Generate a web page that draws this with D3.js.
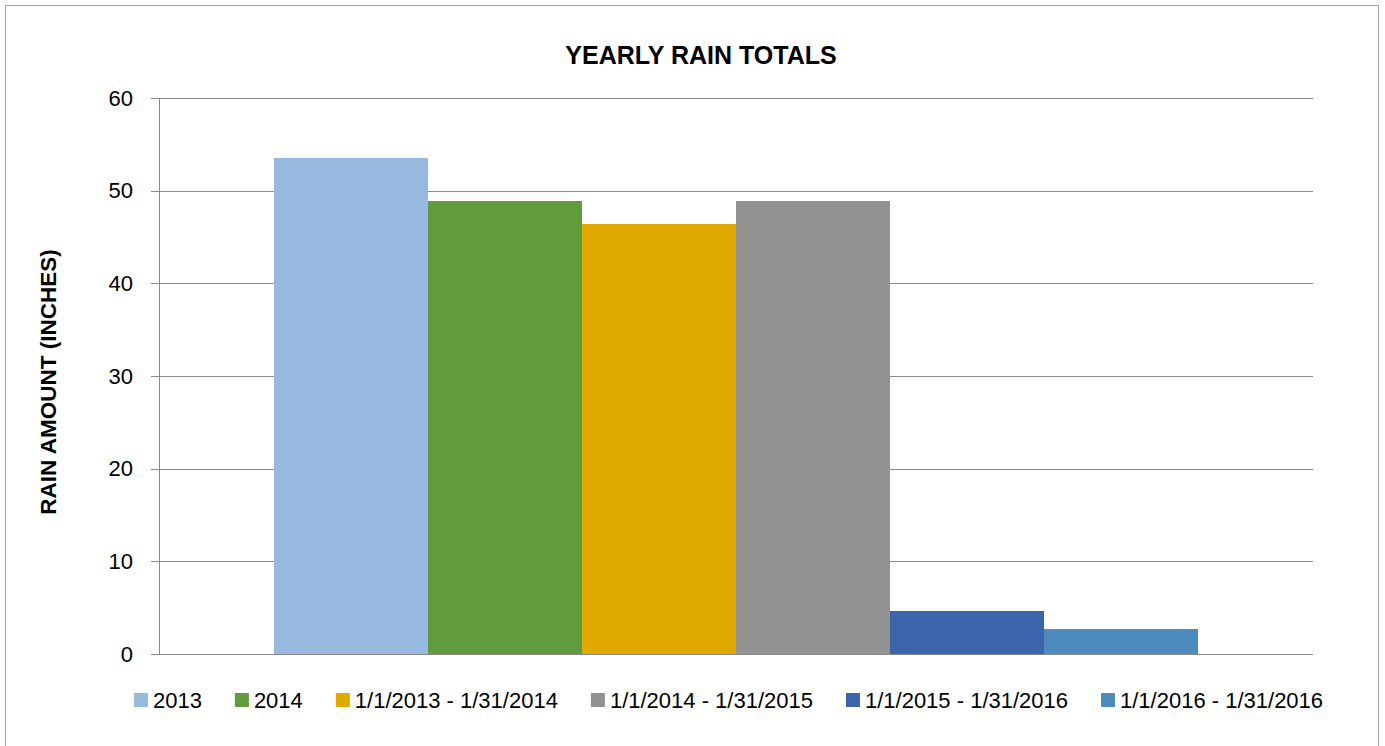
<!DOCTYPE html>
<html>
<head>
<meta charset="utf-8">
<script src="https://cdn.jsdelivr.net/npm/d3@7"></script>
<style>
  body { margin: 0; background: #fff; }
  svg { display: block; }
  text { font-family: "Liberation Sans", Arial, sans-serif; fill: #000; }
</style>
</head>
<body>
<svg id="chart"></svg>
<script>
// DATA

const seriesNames = ["2013", "2014", "1/1/2013 - 1/31/2014", "1/1/2014 - 1/31/2015", "1/1/2015 - 1/31/2016", "1/1/2016 - 1/31/2016"];
const seriesValues = [53.5, 48.9, 46.4, 48.9, 4.6, 2.75];
const seriesColors = ["#97b8df", "#629a3e", "#e1aa00", "#929292", "#3c64ab", "#4e8bbd"];
const yTicks = [0, 10, 20, 30, 40, 50, 60];
const category = [""];

// LAYOUT

const width = 1385, height = 746;
const plot = { left: 159, right: 1313, top: 98, bottom: 654 };

const svg = d3.select("#chart")
    .attr("width", width)
    .attr("height", height);

// outer chart border
svg.append("rect")
    .attr("x", 5.5).attr("y", 5.5)
    .attr("width", 1373).attr("height", 780)
    .attr("fill", "none")
    .attr("stroke", "#a6a6a6");

const y = d3.scaleLinear()
    .domain([0, 60])
    .range([plot.bottom, plot.top]);

const x0 = d3.scaleBand()
    .domain(category)
    .range([plot.left, plot.right])
    .paddingInner(0)
    .paddingOuter(0.125);

const x1 = d3.scaleBand()
    .domain(seriesNames)
    .range([0, x0.bandwidth()]);

// gridlines
svg.append("g")
    .attr("transform", `translate(${plot.left},0)`)
    .call(d3.axisLeft(y).tickValues(yTicks).tickSize(-(plot.right - plot.left)).tickFormat(""))
    .call(g => g.select(".domain").remove())
    .call(g => g.selectAll("line").attr("stroke", "#8a8a8a").attr("shape-rendering", "crispEdges"));

// bars
svg.append("g")
    .selectAll("rect")
    .data(seriesNames.map((s, i) => ({ name: s, value: seriesValues[i], color: seriesColors[i] })))
    .enter()
    .append("rect")
    .attr("x", d => x0(category[0]) + x1(d.name))
    .attr("y", d => y(d.value))
    .attr("width", x1.bandwidth())
    .attr("height", d => y(0) - y(d.value))
    .attr("fill", d => d.color)
    .attr("shape-rendering", "crispEdges");

// y axis
const yAxis = svg.append("g")
    .attr("transform", `translate(${plot.left},0)`)
    .call(d3.axisLeft(y).tickValues(yTicks).tickSize(8).tickPadding(18));
yAxis.select(".domain").attr("stroke", "#8a8a8a").attr("shape-rendering", "crispEdges");
yAxis.selectAll("line").attr("stroke", "#8a8a8a").attr("shape-rendering", "crispEdges");
yAxis.selectAll("text")
    .style("font-family", "'Liberation Sans', Arial, sans-serif")
    .attr("font-size", 22)
    .attr("fill", "#000");

// title
svg.append("text")
    .attr("x", 701)
    .attr("y", 64)
    .attr("text-anchor", "middle")
    .attr("font-size", 25)
    .attr("font-weight", "bold")
    .text("YEARLY RAIN TOTALS");

// y axis label
svg.append("text")
    .attr("transform", "translate(56,382) rotate(-90)")
    .attr("text-anchor", "middle")
    .attr("font-size", 22.5)
    .attr("font-weight", "bold")
    .text("RAIN AMOUNT (INCHES)");

// legend
const legend = svg.append("g");
const items = legend.selectAll("g")
    .data(seriesNames)
    .enter()
    .append("g");
items.append("rect")
    .attr("width", 14).attr("height", 14)
    .attr("y", 693)
    .attr("fill", (d, i) => seriesColors[i]);
items.append("text")
    .attr("x", 19)
    .attr("y", 708)
    .attr("font-size", 22)
    .text(d => d);

// flow the legend entries, then center under the chart
const gap = 33;
let cursor = 0;
items.each(function () {
    const w = this.getBBox().width;
    d3.select(this).attr("data-x", cursor);
    cursor += w + gap;
});
const total = cursor - gap;
const start = 728.5 - total / 2;
items.attr("transform", function () {
    return `translate(${start + (+this.getAttribute("data-x"))},0)`;
});
</script>
</body>
</html>
